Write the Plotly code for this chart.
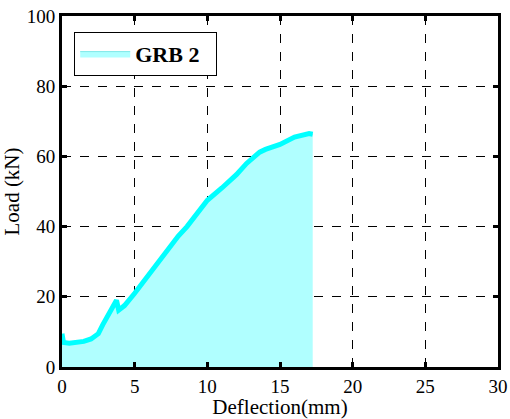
import plotly.graph_objects as go

deflection = [0, 0.1, 0.5, 1, 1.5, 2, 2.5, 2.8, 3.2, 3.75, 3.9, 4.3, 5, 6, 7, 8, 8.6, 9, 10, 11, 11.5, 12, 12.7, 13.6, 14, 15, 16, 17, 17.25]
load = [9.5, 7, 6.8, 7, 7.3, 8, 9.5, 12, 15, 19, 16.2, 17.5, 21, 26.5, 32, 37.3, 40, 42.3, 47.5, 51, 52.8, 54.8, 58, 61.2, 62, 63.4, 65.5, 66.5, 66.3]
series_name = "GRB 2"
x_ticks = [0, 5, 10, 15, 20, 25, 30]
y_ticks = [0, 20, 40, 60, 80, 100]

font = "Liberation Serif"

fig = go.Figure()
fig.add_trace(go.Scatter(
    x=deflection, y=load, mode="lines", fill="tozeroy",
    fillcolor="#b0ffff", line=dict(color="#7fe8e8", width=1),
    name="<b>" + series_name + "</b>  ", showlegend=True, hoverinfo="skip"))
fig.add_trace(go.Scatter(
    x=deflection, y=load, mode="lines",
    line=dict(color="#00ffff", width=5), showlegend=False))

axis_common = dict(
    showline=True, linecolor="black", linewidth=3, mirror="allticks",
    ticks="inside", ticklen=5, tickwidth=3, tickcolor="black",
    showgrid=True, gridcolor="black", gridwidth=1, griddash="dash",
    zeroline=False, automargin=False,
    tickfont=dict(family=font, size=19, color="black"))

fig.update_xaxes(range=[0, 30], tickvals=x_ticks,
                 title=dict(text="Deflection(mm)", font=dict(family=font, size=21, color="black"), standoff=0),
                 **axis_common)
fig.update_yaxes(range=[0, 100], tickvals=y_ticks,
                 title=dict(text="Load (kN)", font=dict(family=font, size=21, color="black"), standoff=2),
                 **axis_common)

fig.update_layout(
    width=510, height=419,
    font=dict(family=font, color="black"),
    margin=dict(l=62, r=12, t=16, b=52),
    plot_bgcolor="white", paper_bgcolor="white",
    legend=dict(x=0.028, y=0.955, xanchor="left", yanchor="top",
                bordercolor="black", borderwidth=1, bgcolor="white",
                itemwidth=50,
                font=dict(family=font, size=22, color="black")),
)

fig.write_html("out.html")
